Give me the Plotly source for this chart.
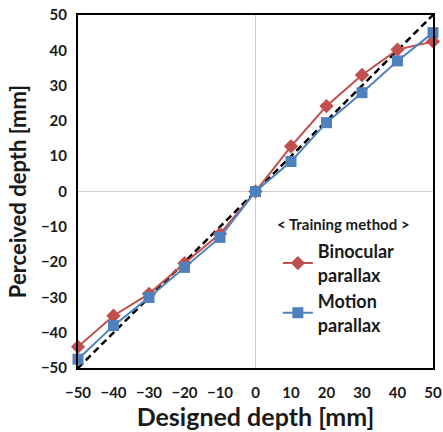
import plotly.graph_objects as go

designed = [-50, -40, -30, -20, -10, 0, 10, 20, 30, 40, 50]
binocular = [-44, -35.2, -29, -20.3, -12, 0, 12.8, 24.2, 33, 40.2, 42.5]
motion = [-47.5, -38, -30, -21.5, -13, 0, 8.5, 19.5, 28, 37, 45]
ideal_x = [-50, 50]
ideal_y = [-50, 50]
tick_vals = [-50, -40, -30, -20, -10, 0, 10, 20, 30, 40, 50]
legend_title = "< Training method >"

font_family = "Lato, Open Sans, sans-serif"
txt = "#1a1a1a"

fig = go.Figure()
fig.add_trace(go.Scatter(x=ideal_x, y=ideal_y, mode="lines",
                         line=dict(color="black", width=2.5, dash="7px,4px"),
                         showlegend=False, hoverinfo="skip", cliponaxis=False))
fig.add_trace(go.Scatter(x=designed, y=binocular, mode="lines+markers",
                         name="Binocular<br>parallax", cliponaxis=False,
                         line=dict(color="#C0504D", width=2),
                         marker=dict(symbol="diamond", size=11, color="#C0504D")))
fig.add_trace(go.Scatter(x=designed, y=motion, mode="lines+markers",
                         name="Motion<br>parallax", cliponaxis=False,
                         line=dict(color="#4F81BD", width=2),
                         marker=dict(symbol="square", size=11, color="#4F81BD")))

axis_common = dict(range=[-50, 50], tickvals=tick_vals, showgrid=False,
                   zeroline=True, zerolinecolor="#d0d0d0", zerolinewidth=1,
                   showline=True, linecolor="black", linewidth=2, mirror=True,
                   ticks="", automargin=False, ticklabeloverflow="allow",
                   tickfont=dict(family=font_family, size=15, color=txt, weight="bold"))

fig.update_layout(
    width=443, height=432,
    margin=dict(l=78, r=10, t=15, b=64),
    paper_bgcolor="white", plot_bgcolor="white",
    xaxis=dict(title=dict(text="Designed depth [mm]", standoff=8,
                          font=dict(family=font_family, size=25, color=txt, weight="bold")),
               ticklabelstandoff=10, **axis_common),
    yaxis=dict(title=dict(text="Perceived depth [mm]", standoff=8,
                          font=dict(family=font_family, size=22, color=txt, weight="bold")),
               ticklabelstandoff=6, **axis_common),
    legend=dict(x=0.563, y=0.382, xanchor="left", yanchor="top",
                bgcolor="rgba(255,255,255,0)",
                font=dict(family=font_family, size=18, color=txt, weight="bold"),
                itemwidth=30),
    annotations=[dict(text=legend_title, xref="paper", yref="paper",
                      x=0.748, y=0.408, xanchor="center", yanchor="middle",
                      showarrow=False,
                      font=dict(family=font_family, size=15, color=txt, weight="bold"))],
)

fig.write_html("out.html", config={"displayModeBar": False},
               post_script="document.body.style.margin='0';")
